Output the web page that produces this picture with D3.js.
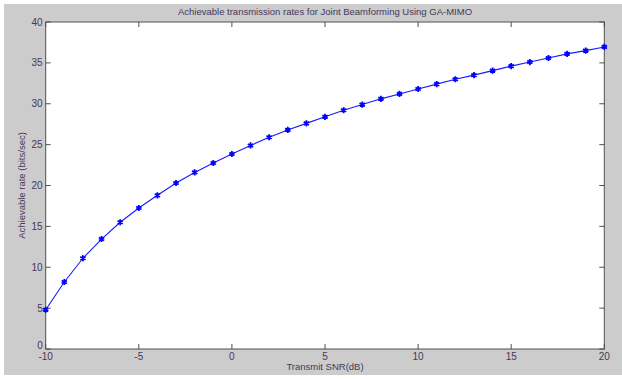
<!DOCTYPE html>
<html><head><meta charset="utf-8">
<script src="https://cdn.jsdelivr.net/npm/d3@7"></script>
<style>html,body{margin:0;padding:0;background:#fff;}svg{display:block;}</style>
</head><body>
<script>
const snr = [-10,-9,-8,-7,-6,-5,-4,-3,-2,-1,0,1,2,3,4,5,6,7,8,9,10,11,12,13,14,15,16,17,18,19,20];
const rate = [4.8,8.2,11.1,13.45,15.5,17.25,18.8,20.3,21.6,22.75,23.85,24.9,25.9,26.8,27.6,28.4,29.2,29.9,30.6,31.2,31.8,32.4,33.0,33.5,34.05,34.6,35.1,35.6,36.1,36.5,36.95];
const xTicks = [-10,-5,0,5,10,15,20];
const yTicks = [0,5,10,15,20,25,30,35,40];
const titleText = "Achievable transmission rates for Joint Beamforming Using GA-MIMO";
const xLabel = "Transmit SNR(dB)";
const yLabel = "Achievable rate (bits/sec)";

const W = 622, H = 379;
const L = 45.7, R = 604.3, T = 22, B = 349;
const svg = d3.select("body").append("svg").attr("width", W).attr("height", H);
svg.append("rect").attr("x",4).attr("y",4).attr("width",W-4).attr("height",371).attr("fill","#cccccc");
svg.append("rect").attr("x",L).attr("y",T).attr("width",R-L).attr("height",B-T).attr("fill","#fff");

const x = d3.scaleLinear().domain([-10,20]).range([L,R]);
const y = d3.scaleLinear().domain([0,40]).range([B,T]);
const font = "'Liberation Sans', Arial, sans-serif";
const txt = "#45385a";
const axc = "#505050";

const g = svg.append("g");
xTicks.forEach(t => {
  g.append("line").attr("x1",x(t)).attr("x2",x(t)).attr("y1",B).attr("y2",B-5).attr("stroke",axc);
  g.append("line").attr("x1",x(t)).attr("x2",x(t)).attr("y1",T).attr("y2",T+5).attr("stroke",axc);
});
yTicks.forEach(t => {
  g.append("line").attr("x1",L).attr("x2",L+5).attr("y1",y(t)).attr("y2",y(t)).attr("stroke",axc);
  g.append("line").attr("x1",R).attr("x2",R-5).attr("y1",y(t)).attr("y2",y(t)).attr("stroke",axc);
});
svg.append("rect").attr("x",L).attr("y",T).attr("width",R-L).attr("height",B-T).attr("fill","none").attr("stroke",axc).attr("stroke-width",1);

svg.selectAll(".xt").data(xTicks).enter().append("text")
  .attr("x", d => x(d)).attr("y", B+11).attr("text-anchor","middle")
  .attr("font-family",font).attr("font-size",10).attr("fill",txt).text(d => d);
svg.selectAll(".yt").data(yTicks).enter().append("text")
  .attr("x", L-3).attr("y", d => y(d)+ (d===0 ? 0 : 3.5)).attr("text-anchor","end")
  .attr("font-family",font).attr("font-size",10).attr("fill",txt).text(d => d);

svg.append("text").attr("x",(L+R)/2).attr("y",15).attr("text-anchor","middle")
  .attr("font-family",font).attr("font-size",9.5).attr("fill",txt).text(titleText);
svg.append("text").attr("x",(L+R)/2).attr("y",370).attr("text-anchor","middle")
  .attr("font-family",font).attr("font-size",9.5).attr("fill",txt).text(xLabel);
svg.append("text").attr("transform",`translate(25,${(T+B)/2}) rotate(-90)`).attr("text-anchor","middle")
  .attr("font-family",font).attr("font-size",9.5).attr("fill",txt).text(yLabel);

const data = snr.map((s,i)=>({s, r:rate[i]}));
svg.append("path").datum(data)
  .attr("d", d3.line().x(d=>x(d.s)).y(d=>y(d.r)))
  .attr("fill","none").attr("stroke","#1a1aff").attr("stroke-width",1.1);
svg.selectAll(".m").data(data).enter().append("path")
  .attr("transform", d => `translate(${x(d.s)},${y(d.r)})`)
  .attr("d", d3.symbol().type(d3.symbolAsterisk).size(26))
  .attr("fill","none").attr("stroke","#0000ff").attr("stroke-width",1.8);
</script>
</body></html>
